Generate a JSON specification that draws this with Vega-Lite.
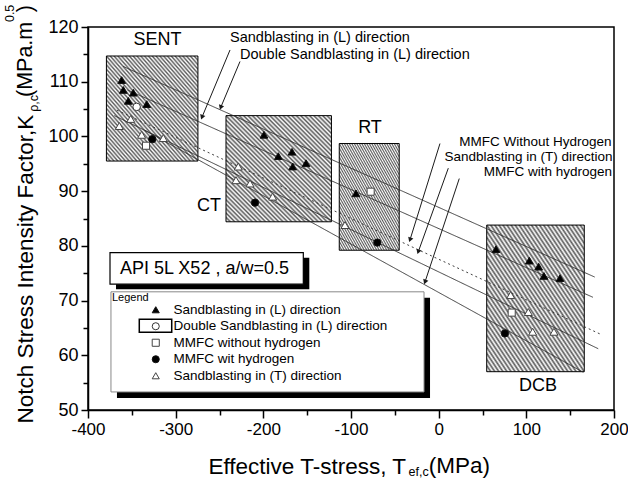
{
  "$schema": "https://vega.github.io/schema/vega-lite/v6.json",
  "width": 526,
  "height": 383,
  "autosize": {"type": "none"},
  "padding": {"left": 88, "top": 27, "right": 14, "bottom": 70},
  "background": "white",
  "config": {
    "font": "Liberation Sans",
    "view": {"stroke": "black", "strokeWidth": 1.5},
    "axis": {
      "grid": false,
      "domainColor": "black",
      "domainWidth": 1.5,
      "tickColor": "black",
      "tickWidth": 1.5,
      "labelColor": "black",
      "labelFontSize": 18,
      "labelFlush": false,
      "labelOverlap": false,
      "titleColor": "black",
      "titleFontWeight": "normal",
      "titleFontSize": 22.5
    }
  },
  "resolve": {"axis": {"x": "independent", "y": "independent"}},
  "datasets": {
    "boxes": [
      {"name": "SENT", "x": -379, "x2": -274.6, "y": 95.5, "y2": 114.7},
      {"name": "CT", "x": -242.6, "x2": -122.3, "y": 84.4, "y2": 103.8},
      {"name": "RT", "x": -113.4, "x2": -45, "y": 79.2, "y2": 98.7},
      {"name": "DCB", "x": 54.8, "x2": 166.1, "y": 57, "y2": 83.8}
    ],
    "lines": [
      {"series": "Double Sandblasting in (L) direction", "x": -360, "y": 112.8, "x2": 178, "y2": 74.3},
      {"series": "Sandblasting in (L) direction", "x": -355, "y": 108.5, "x2": 176, "y2": 70.6},
      {"series": "MMFC without hydrogen", "x": -367, "y": 104.8, "x2": 184, "y2": 63.9},
      {"series": "Sandblasting in (T) direction", "x": -370, "y": 103.8, "x2": 182, "y2": 61.2},
      {"series": "MMFC wit hydrogen", "x": -335, "y": 101.1, "x2": 165, "y2": 56.9}
    ],
    "arrows": [
      {"label": "Sandblasting in (L) direction", "x": -238, "y": 115.8, "x2": -270, "y2": 103.5},
      {"label": "Double Sandblasting in (L) direction", "x": -226.6, "y": 113.7, "x2": -248.6, "y2": 105.3},
      {"label": "MMFC Without Hydrogen", "x": 1.5, "y": 98.7, "x2": -32.7, "y2": 81.1},
      {"label": "Sandblasting in (T) direction", "x": 11, "y": 94.2, "x2": -23.3, "y2": 78.9},
      {"label": "MMFC with hydrogen", "x": 23.5, "y": 92.3, "x2": -15.6, "y2": 73.4}
    ],
    "points": [
      {"series": "Sandblasting in (L) direction", "x": -361.6, "y": 110.3},
      {"series": "Sandblasting in (L) direction", "x": -359.7, "y": 108.5},
      {"series": "Sandblasting in (L) direction", "x": -348.3, "y": 108.0},
      {"series": "Sandblasting in (L) direction", "x": -354.0, "y": 106.5},
      {"series": "Sandblasting in (L) direction", "x": -333.0, "y": 105.9},
      {"series": "Sandblasting in (L) direction", "x": -199.3, "y": 100.3},
      {"series": "Sandblasting in (L) direction", "x": -182.9, "y": 96.4},
      {"series": "Sandblasting in (L) direction", "x": -167.3, "y": 97.2},
      {"series": "Sandblasting in (L) direction", "x": -166.5, "y": 94.5},
      {"series": "Sandblasting in (L) direction", "x": -151.3, "y": 95.1},
      {"series": "Sandblasting in (L) direction", "x": -94.3, "y": 89.6},
      {"series": "Sandblasting in (L) direction", "x": 65.4, "y": 79.4},
      {"series": "Sandblasting in (L) direction", "x": 103.4, "y": 77.3},
      {"series": "Sandblasting in (L) direction", "x": 114.0, "y": 76.2},
      {"series": "Sandblasting in (L) direction", "x": 120.1, "y": 74.5},
      {"series": "Sandblasting in (L) direction", "x": 138.4, "y": 74.1},
      {"series": "Double Sandblasting in (L) direction", "x": -344.5, "y": 105.4},
      {"series": "MMFC without hydrogen", "x": -333.8, "y": 98.3},
      {"series": "MMFC without hydrogen", "x": -77.6, "y": 89.9},
      {"series": "MMFC without hydrogen", "x": 83.3, "y": 67.8},
      {"series": "MMFC wit hydrogen", "x": -326.7, "y": 99.5},
      {"series": "MMFC wit hydrogen", "x": -209.5, "y": 87.9},
      {"series": "MMFC wit hydrogen", "x": -70.0, "y": 80.6},
      {"series": "MMFC wit hydrogen", "x": 75.6, "y": 64.0},
      {"series": "Sandblasting in (T) direction", "x": -364.3, "y": 101.9},
      {"series": "Sandblasting in (T) direction", "x": -351.3, "y": 103.2},
      {"series": "Sandblasting in (T) direction", "x": -338.8, "y": 100.3},
      {"series": "Sandblasting in (T) direction", "x": -314.1, "y": 99.7},
      {"series": "Sandblasting in (T) direction", "x": -228.6, "y": 94.5},
      {"series": "Sandblasting in (T) direction", "x": -231.2, "y": 92.0},
      {"series": "Sandblasting in (T) direction", "x": -215.2, "y": 91.4},
      {"series": "Sandblasting in (T) direction", "x": -189.4, "y": 89.0},
      {"series": "Sandblasting in (T) direction", "x": -106.9, "y": 83.8},
      {"series": "Sandblasting in (T) direction", "x": 82.1, "y": 71.0},
      {"series": "Sandblasting in (T) direction", "x": 102.3, "y": 67.9},
      {"series": "Sandblasting in (T) direction", "x": 107.2, "y": 64.3},
      {"series": "Sandblasting in (T) direction", "x": 131.5, "y": 64.3}
    ]
  },
  "layer": [
    {
      "data": {"name": "boxes"},
      "mark": {
        "type": "rect",
        "stroke": "black",
        "strokeWidth": 1,
        "fill": {
          "gradient": "linear", "x1": 0, "y1": 1, "x2": 1, "y2": 0,
          "stops": [
            {"offset": 0, "color": "#5a5a5a"}, {"offset": 0.0104, "color": "#ffffff"},
            {"offset": 0.0208, "color": "#5a5a5a"}, {"offset": 0.0313, "color": "#ffffff"},
            {"offset": 0.0417, "color": "#5a5a5a"}, {"offset": 0.0521, "color": "#ffffff"},
            {"offset": 0.0625, "color": "#5a5a5a"}, {"offset": 0.0729, "color": "#ffffff"},
            {"offset": 0.0833, "color": "#5a5a5a"}, {"offset": 0.0938, "color": "#ffffff"},
            {"offset": 0.1042, "color": "#5a5a5a"}, {"offset": 0.1146, "color": "#ffffff"},
            {"offset": 0.125, "color": "#5a5a5a"}, {"offset": 0.1354, "color": "#ffffff"},
            {"offset": 0.1458, "color": "#5a5a5a"}, {"offset": 0.1563, "color": "#ffffff"},
            {"offset": 0.1667, "color": "#5a5a5a"}, {"offset": 0.1771, "color": "#ffffff"},
            {"offset": 0.1875, "color": "#5a5a5a"}, {"offset": 0.1979, "color": "#ffffff"},
            {"offset": 0.2083, "color": "#5a5a5a"}, {"offset": 0.2188, "color": "#ffffff"},
            {"offset": 0.2292, "color": "#5a5a5a"}, {"offset": 0.2396, "color": "#ffffff"},
            {"offset": 0.25, "color": "#5a5a5a"}, {"offset": 0.2604, "color": "#ffffff"},
            {"offset": 0.2708, "color": "#5a5a5a"}, {"offset": 0.2813, "color": "#ffffff"},
            {"offset": 0.2917, "color": "#5a5a5a"}, {"offset": 0.3021, "color": "#ffffff"},
            {"offset": 0.3125, "color": "#5a5a5a"}, {"offset": 0.3229, "color": "#ffffff"},
            {"offset": 0.3333, "color": "#5a5a5a"}, {"offset": 0.3438, "color": "#ffffff"},
            {"offset": 0.3542, "color": "#5a5a5a"}, {"offset": 0.3646, "color": "#ffffff"},
            {"offset": 0.375, "color": "#5a5a5a"}, {"offset": 0.3854, "color": "#ffffff"},
            {"offset": 0.3958, "color": "#5a5a5a"}, {"offset": 0.4063, "color": "#ffffff"},
            {"offset": 0.4167, "color": "#5a5a5a"}, {"offset": 0.4271, "color": "#ffffff"},
            {"offset": 0.4375, "color": "#5a5a5a"}, {"offset": 0.4479, "color": "#ffffff"},
            {"offset": 0.4583, "color": "#5a5a5a"}, {"offset": 0.4688, "color": "#ffffff"},
            {"offset": 0.4792, "color": "#5a5a5a"}, {"offset": 0.4896, "color": "#ffffff"},
            {"offset": 0.5, "color": "#5a5a5a"}, {"offset": 0.5104, "color": "#ffffff"},
            {"offset": 0.5208, "color": "#5a5a5a"}, {"offset": 0.5313, "color": "#ffffff"},
            {"offset": 0.5417, "color": "#5a5a5a"}, {"offset": 0.5521, "color": "#ffffff"},
            {"offset": 0.5625, "color": "#5a5a5a"}, {"offset": 0.5729, "color": "#ffffff"},
            {"offset": 0.5833, "color": "#5a5a5a"}, {"offset": 0.5938, "color": "#ffffff"},
            {"offset": 0.6042, "color": "#5a5a5a"}, {"offset": 0.6146, "color": "#ffffff"},
            {"offset": 0.625, "color": "#5a5a5a"}, {"offset": 0.6354, "color": "#ffffff"},
            {"offset": 0.6458, "color": "#5a5a5a"}, {"offset": 0.6563, "color": "#ffffff"},
            {"offset": 0.6667, "color": "#5a5a5a"}, {"offset": 0.6771, "color": "#ffffff"},
            {"offset": 0.6875, "color": "#5a5a5a"}, {"offset": 0.6979, "color": "#ffffff"},
            {"offset": 0.7083, "color": "#5a5a5a"}, {"offset": 0.7188, "color": "#ffffff"},
            {"offset": 0.7292, "color": "#5a5a5a"}, {"offset": 0.7396, "color": "#ffffff"},
            {"offset": 0.75, "color": "#5a5a5a"}, {"offset": 0.7604, "color": "#ffffff"},
            {"offset": 0.7708, "color": "#5a5a5a"}, {"offset": 0.7813, "color": "#ffffff"},
            {"offset": 0.7917, "color": "#5a5a5a"}, {"offset": 0.8021, "color": "#ffffff"},
            {"offset": 0.8125, "color": "#5a5a5a"}, {"offset": 0.8229, "color": "#ffffff"},
            {"offset": 0.8333, "color": "#5a5a5a"}, {"offset": 0.8438, "color": "#ffffff"},
            {"offset": 0.8542, "color": "#5a5a5a"}, {"offset": 0.8646, "color": "#ffffff"},
            {"offset": 0.875, "color": "#5a5a5a"}, {"offset": 0.8854, "color": "#ffffff"},
            {"offset": 0.8958, "color": "#5a5a5a"}, {"offset": 0.9063, "color": "#ffffff"},
            {"offset": 0.9167, "color": "#5a5a5a"}, {"offset": 0.9271, "color": "#ffffff"},
            {"offset": 0.9375, "color": "#5a5a5a"}, {"offset": 0.9479, "color": "#ffffff"},
            {"offset": 0.9583, "color": "#5a5a5a"}, {"offset": 0.9688, "color": "#ffffff"},
            {"offset": 0.9792, "color": "#5a5a5a"}, {"offset": 0.9896, "color": "#ffffff"},
            {"offset": 1, "color": "#5a5a5a"}
          ]
        }
      },
      "encoding": {
        "x": {
          "field": "x", "type": "quantitative",
          "scale": {"domain": [-400, 200], "nice": false, "zero": false},
          "axis": {
            "orient": "bottom",
            "values": [-400, -300, -200, -100, 0, 100, 200],
            "labelExpr": "'' + datum.value",
            "labelFontSize": 17,
            "tickSize": 8,
            "labelPadding": 3,
            "title": "Effective T-stress, T",
            "titleX": 120, "titleY": 63, "titleAlign": "left", "titleBaseline": "alphabetic", "titleAnchor": "start"
          }
        },
        "x2": {"field": "x2"},
        "y": {
          "field": "y", "type": "quantitative",
          "scale": {"domain": [50, 120], "nice": false, "zero": false},
          "axis": {
            "orient": "left",
            "values": [50, 60, 70, 80, 90, 100, 110, 120],
            "labelExpr": "'' + datum.value",
            "tickSize": 7,
            "labelPadding": 3,
            "title": "Notch Stress Intensity Factor,K",
            "titleAngle": 270, "titleX": -56, "titleY": 396, "titleAlign": "left", "titleBaseline": "alphabetic", "titleAnchor": "start"
          }
        },
        "y2": {"field": "y2"}
      }
    },
    {
      "data": {"name": "lines"},
      "mark": {"type": "rule", "color": "#2a2a2a", "strokeWidth": 0.9},
      "encoding": {
        "x": {"field": "x", "type": "quantitative", "scale": {"domain": [-400, 200], "nice": false, "zero": false},
          "axis": {"orient": "bottom", "values": [-350, -250, -150, -50, 50, 150], "tickSize": 5, "labels": false, "domain": false, "title": null}},
        "x2": {"field": "x2"},
        "y": {"field": "y", "type": "quantitative", "scale": {"domain": [50, 120], "nice": false, "zero": false},
          "axis": {"orient": "left", "values": [55, 65, 75, 85, 95, 105, 115], "tickSize": 5, "labels": false, "domain": false, "title": null}},
        "y2": {"field": "y2"},
        "strokeDash": {
          "condition": {"test": "datum.series === 'MMFC without hydrogen'", "value": [2, 3]},
          "value": [1, 0]
        }
      }
    },
    {
      "data": {"name": "arrows"},
      "mark": {"type": "rule", "color": "#1a1a1a", "strokeWidth": 1},
      "encoding": {
        "x": {"field": "x", "type": "quantitative", "scale": {"domain": [-400, 200], "nice": false, "zero": false}, "axis": null},
        "x2": {"field": "x2"},
        "y": {"field": "y", "type": "quantitative", "scale": {"domain": [50, 120], "nice": false, "zero": false}, "axis": null},
        "y2": {"field": "y2"}
      }
    },
    {
      "data": {"name": "arrows"},
      "mark": {"type": "point", "shape": "triangle-down", "filled": true, "color": "#1a1a1a", "opacity": 1, "size": 30, "angle": 20},
      "encoding": {
        "x": {"field": "x2", "type": "quantitative", "scale": {"domain": [-400, 200], "nice": false, "zero": false}, "axis": null},
        "y": {"field": "y2", "type": "quantitative", "scale": {"domain": [50, 120], "nice": false, "zero": false}, "axis": null}
      }
    },
    {
      "data": {"values": [{"x": -374.9, "x2": -154.4, "y": 78.75, "y2": 73.0}]},
      "mark": {"type": "rect", "fill": "black", "xOffset": 6, "x2Offset": 6, "yOffset": 5, "y2Offset": 5},
      "encoding": {
        "x": {"field": "x", "type": "quantitative", "scale": {"domain": [-400, 200], "nice": false, "zero": false}, "axis": null},
        "x2": {"field": "x2"},
        "y": {"field": "y", "type": "quantitative", "scale": {"domain": [50, 120], "nice": false, "zero": false}, "axis": null},
        "y2": {"field": "y2"}
      }
    },
    {
      "data": {"values": [{"x": -374.9, "x2": -154.4, "y": 78.75, "y2": 73.0}]},
      "mark": {"type": "rect", "fill": "white", "stroke": "black", "strokeWidth": 1.2},
      "encoding": {
        "x": {"field": "x", "type": "quantitative", "scale": {"domain": [-400, 200], "nice": false, "zero": false}, "axis": null},
        "x2": {"field": "x2"},
        "y": {"field": "y", "type": "quantitative", "scale": {"domain": [50, 120], "nice": false, "zero": false}, "axis": null},
        "y2": {"field": "y2"}
      }
    },
    {
      "data": {"values": [{"x": -373.8, "x2": -16.7, "y": 71.6, "y2": 53.3}]},
      "mark": {"type": "rect", "fill": "black", "xOffset": 6, "x2Offset": 6, "yOffset": 6, "y2Offset": 6},
      "encoding": {
        "x": {"field": "x", "type": "quantitative", "scale": {"domain": [-400, 200], "nice": false, "zero": false}, "axis": null},
        "x2": {"field": "x2"},
        "y": {"field": "y", "type": "quantitative", "scale": {"domain": [50, 120], "nice": false, "zero": false}, "axis": null},
        "y2": {"field": "y2"}
      }
    },
    {
      "data": {"values": [{"x": -373.8, "x2": -16.7, "y": 71.6, "y2": 53.3}]},
      "mark": {"type": "rect", "fill": "white", "stroke": "#888888", "strokeWidth": 1},
      "encoding": {
        "x": {"field": "x", "type": "quantitative", "scale": {"domain": [-400, 200], "nice": false, "zero": false}, "axis": null},
        "x2": {"field": "x2"},
        "y": {"field": "y", "type": "quantitative", "scale": {"domain": [50, 120], "nice": false, "zero": false}, "axis": null},
        "y2": {"field": "y2"}
      }
    },
    {
      "data": {"values": [{"x": -341.5, "x2": -304.5, "y": 66.6, "y2": 64.2}]},
      "mark": {"type": "rect", "fill": null, "stroke": "black", "strokeWidth": 1.5},
      "encoding": {
        "x": {"field": "x", "type": "quantitative", "scale": {"domain": [-400, 200], "nice": false, "zero": false}, "axis": null},
        "x2": {"field": "x2"},
        "y": {"field": "y", "type": "quantitative", "scale": {"domain": [50, 120], "nice": false, "zero": false}, "axis": null},
        "y2": {"field": "y2"}
      }
    },
    {
      "data": {"name": "points"},
      "mark": {"type": "point", "filled": true, "opacity": 1, "strokeWidth": 1},
      "encoding": {
        "x": {"field": "x", "type": "quantitative", "scale": {"domain": [-400, 200], "nice": false, "zero": false}, "axis": null},
        "y": {"field": "y", "type": "quantitative", "scale": {"domain": [50, 120], "nice": false, "zero": false}, "axis": null},
        "shape": {
          "field": "series", "type": "nominal",
          "scale": {
            "domain": ["Sandblasting in (L) direction", "Double Sandblasting in (L) direction", "MMFC without hydrogen", "MMFC wit hydrogen", "Sandblasting in (T) direction"],
            "range": ["triangle-up", "circle", "square", "circle", "triangle-up"]
          },
          "legend": {
            "title": "Legend",
            "orient": "none",
            "legendX": 24,
            "legendY": 265,
            "titleFontSize": 11,
            "titleFontWeight": "normal",
            "titleColor": "black",
            "titlePadding": 0,
            "labelFontSize": 13.5,
            "labelColor": "black",
            "labelLimit": 400,
            "labelOffset": 11,
            "symbolOffset": 37,
            "symbolSize": 50,
            "symbolStrokeWidth": 1,
            "rowPadding": 1.5
          }
        },
        "fill": {
          "field": "series", "type": "nominal",
          "scale": {
            "domain": ["Sandblasting in (L) direction", "Double Sandblasting in (L) direction", "MMFC without hydrogen", "MMFC wit hydrogen", "Sandblasting in (T) direction"],
            "range": ["black", "white", "white", "black", "white"]
          }
        },
        "stroke": {
          "field": "series", "type": "nominal",
          "scale": {
            "domain": ["Sandblasting in (L) direction", "Double Sandblasting in (L) direction", "MMFC without hydrogen", "MMFC wit hydrogen", "Sandblasting in (T) direction"],
            "range": ["#111111", "#333333", "#444444", "#111111", "#444444"]
          }
        },
        "size": {
          "field": "series", "type": "nominal", "legend": null,
          "scale": {
            "domain": ["MMFC without hydrogen", "MMFC wit hydrogen", "Double Sandblasting in (L) direction", "Sandblasting in (L) direction", "Sandblasting in (T) direction"],
            "range": [50, 64, 60, 100, 100]
          }
        }
      }
    },
    {
      "data": {"values": [
        {"text": "SENT", "x": -320.7, "y": 117.6},
        {"text": "CT", "x": -262, "y": 87.2},
        {"text": "RT", "x": -78.3, "y": 101.5},
        {"text": "DCB", "x": 113.3, "y": 54.4}
      ]},
      "mark": {"type": "text", "fontSize": 18, "align": "center", "baseline": "middle", "color": "black"},
      "encoding": {
        "x": {"field": "x", "type": "quantitative", "scale": {"domain": [-400, 200], "nice": false, "zero": false}, "axis": null},
        "y": {"field": "y", "type": "quantitative", "scale": {"domain": [50, 120], "nice": false, "zero": false}, "axis": null},
        "text": {"field": "text"}
      }
    },
    {
      "data": {"values": [
        {"text": "Sandblasting in (L) direction", "x": -238, "y": 118.0},
        {"text": "Double Sandblasting in (L) direction", "x": -226.6, "y": 114.9}
      ]},
      "mark": {"type": "text", "fontSize": 14.5, "align": "left", "baseline": "middle", "color": "black"},
      "encoding": {
        "x": {"field": "x", "type": "quantitative", "scale": {"domain": [-400, 200], "nice": false, "zero": false}, "axis": null},
        "y": {"field": "y", "type": "quantitative", "scale": {"domain": [50, 120], "nice": false, "zero": false}, "axis": null},
        "text": {"field": "text"}
      }
    },
    {
      "data": {"values": [
        {"text": "MMFC Without Hydrogen", "x": 197.3, "y": 99.0},
        {"text": "Sandblasting in (T) direction", "x": 198.4, "y": 96.3},
        {"text": "MMFC with hydrogen", "x": 197.7, "y": 93.55}
      ]},
      "mark": {"type": "text", "fontSize": 13.5, "align": "right", "baseline": "middle", "color": "black"},
      "encoding": {
        "x": {"field": "x", "type": "quantitative", "scale": {"domain": [-400, 200], "nice": false, "zero": false}, "axis": null},
        "y": {"field": "y", "type": "quantitative", "scale": {"domain": [50, 120], "nice": false, "zero": false}, "axis": null},
        "text": {"field": "text"}
      }
    },
    {
      "data": {"values": [{"text": "API 5L X52 , a/w=0.5", "x": -363.5, "y": 75.8}]},
      "mark": {"type": "text", "fontSize": 18, "align": "left", "baseline": "middle", "color": "black"},
      "encoding": {
        "x": {"field": "x", "type": "quantitative", "scale": {"domain": [-400, 200], "nice": false, "zero": false}, "axis": null},
        "y": {"field": "y", "type": "quantitative", "scale": {"domain": [50, 120], "nice": false, "zero": false}, "axis": null},
        "text": {"field": "text"}
      }
    },
    {
      "data": {"values": [
        {"text": "(MPa)", "x": -11.4, "y": 38.5}
      ]},
      "mark": {"type": "text", "fontSize": 22.5, "align": "left", "baseline": "alphabetic", "color": "black"},
      "encoding": {
        "x": {"field": "x", "type": "quantitative", "scale": {"domain": [-400, 200], "nice": false, "zero": false}, "axis": null},
        "y": {"field": "y", "type": "quantitative", "scale": {"domain": [50, 120], "nice": false, "zero": false}, "axis": null},
        "text": {"field": "text"}
      }
    },
    {
      "data": {"values": [
        {"text": "ef,c", "x": -34.4, "y": 38.0}
      ]},
      "mark": {"type": "text", "fontSize": 12.5, "align": "left", "baseline": "alphabetic", "color": "black"},
      "encoding": {
        "x": {"field": "x", "type": "quantitative", "scale": {"domain": [-400, 200], "nice": false, "zero": false}, "axis": null},
        "y": {"field": "y", "type": "quantitative", "scale": {"domain": [50, 120], "nice": false, "zero": false}, "axis": null},
        "text": {"field": "text"}
      }
    },
    {
      "data": {"values": [
        {"text": "(MPa.m", "x": -463.9, "y": 107.2},
        {"text": ")", "x": -463.9, "y": 122.7}
      ]},
      "mark": {"type": "text", "fontSize": 21.5, "angle": 270, "align": "left", "baseline": "alphabetic", "color": "black"},
      "encoding": {
        "x": {"field": "x", "type": "quantitative", "scale": {"domain": [-400, 200], "nice": false, "zero": false}, "axis": null},
        "y": {"field": "y", "type": "quantitative", "scale": {"domain": [50, 120], "nice": false, "zero": false}, "axis": null},
        "text": {"field": "text"}
      }
    },
    {
      "data": {"values": [
        {"text": "ρ,c", "x": -457.0, "y": 104.5},
        {"text": "0.5", "x": -484.4, "y": 120.9}
      ]},
      "mark": {"type": "text", "fontSize": 12.5, "angle": 270, "align": "left", "baseline": "alphabetic", "color": "black"},
      "encoding": {
        "x": {"field": "x", "type": "quantitative", "scale": {"domain": [-400, 200], "nice": false, "zero": false}, "axis": null},
        "y": {"field": "y", "type": "quantitative", "scale": {"domain": [50, 120], "nice": false, "zero": false}, "axis": null},
        "text": {"field": "text"}
      }
    }
  ]
}
